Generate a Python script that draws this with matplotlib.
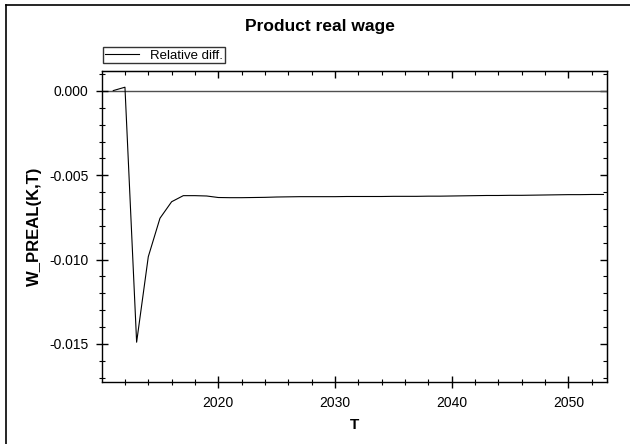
import matplotlib
matplotlib.use("Agg")
import matplotlib.pyplot as plt
from matplotlib.lines import Line2D
from matplotlib.ticker import MultipleLocator, FormatStrFormatter

plt.rcParams['font.family'] = ['Liberation Sans', 'DejaVu Sans']

# data
years = list(range(2011, 2054))
rel_diff = [
    0.00002, 0.00022, -0.01490, -0.00983, -0.00755, -0.00657, -0.00621,
    -0.00621, -0.00623, -0.00632, -0.00633, -0.00633, -0.00632, -0.00631,
    -0.00629, -0.00628, -0.00627, -0.00627, -0.00627, -0.00627, -0.00626,
    -0.00626, -0.00626, -0.00626, -0.00625, -0.00625, -0.00625, -0.00624,
    -0.00624, -0.00623, -0.00622, -0.00621, -0.00620, -0.00620, -0.00619,
    -0.00619, -0.00618, -0.00617, -0.00616, -0.00615, -0.00615, -0.00614,
    -0.00614,
]
series_label = 'Relative diff.'
title = 'Product real wage'
xlabel = 'T'
ylabel = 'W_PREAL(K,T)'

fig = plt.figure(figsize=(6.3, 4.44), dpi=100)
ax = fig.add_axes([0.1624, 0.1396, 0.963 - 0.1624, 0.8408 - 0.1396])

ax.axhline(0, color='#505050', lw=1.0, zorder=1)
line, = ax.plot(years, rel_diff, color='black', lw=0.8, zorder=2)

ax.set_xlim(2010.06, 2053.28)
ax.set_ylim(-0.01726, 0.00120)

ax.xaxis.set_major_locator(MultipleLocator(10))
ax.xaxis.set_minor_locator(MultipleLocator(2))
ax.yaxis.set_major_locator(MultipleLocator(0.005))
ax.yaxis.set_minor_locator(MultipleLocator(0.001))
ax.yaxis.set_major_formatter(FormatStrFormatter('%.3f'))

# left/bottom ticks cross the spine
ax.tick_params(which='major', direction='inout', length=8, width=1, labelsize=10)
ax.tick_params(which='minor', direction='inout', length=5, width=0.8)
ax.tick_params(axis='x', which='major', pad=6)
ax.tick_params(axis='y', which='major', pad=6)
for s in ax.spines.values():
    s.set_linewidth(1.0)
    s.set_color('black')

# top/right ticks point inward only
ax_top = ax.secondary_xaxis('top')
ax_top.xaxis.set_major_locator(MultipleLocator(10))
ax_top.xaxis.set_minor_locator(MultipleLocator(2))
ax_top.tick_params(which='major', direction='in', length=5, width=1, labeltop=False)
ax_top.tick_params(which='minor', direction='in', length=3, width=0.8)
ax_right = ax.secondary_yaxis('right')
ax_right.yaxis.set_major_locator(MultipleLocator(0.005))
ax_right.yaxis.set_minor_locator(MultipleLocator(0.001))
ax_right.tick_params(which='major', direction='in', length=5, width=1, labelright=False)
ax_right.tick_params(which='minor', direction='in', length=3, width=0.8)

ax.set_xlabel(xlabel, fontsize=11, fontweight='bold', labelpad=6)
ax.set_ylabel(ylabel, fontsize=12, fontweight='bold', labelpad=5)
fig.text(320 / 630, 1 - 27 / 444, title, fontsize=12.5, fontweight='bold',
         ha='center', va='center')

leg = fig.legend([line], [series_label], loc='lower left',
                 bbox_to_anchor=(103 / 630, 1 - 63.5 / 444), fontsize=9.5,
                 frameon=True, fancybox=False, borderpad=0.15,
                 handlelength=2.6, handletextpad=0.8, borderaxespad=0)
leg.get_frame().set_edgecolor('black')
leg.get_frame().set_linewidth(1.0)

# window frame edges visible on the left and top of the screenshot
fig.add_artist(Line2D([6 / 630, 6 / 630], [0, 1 - 5 / 444], color='black', lw=1.2))
fig.add_artist(Line2D([6 / 630, 1], [1 - 5 / 444, 1 - 5 / 444], color='black', lw=1.2))

fig.savefig('out.png', dpi=100)
